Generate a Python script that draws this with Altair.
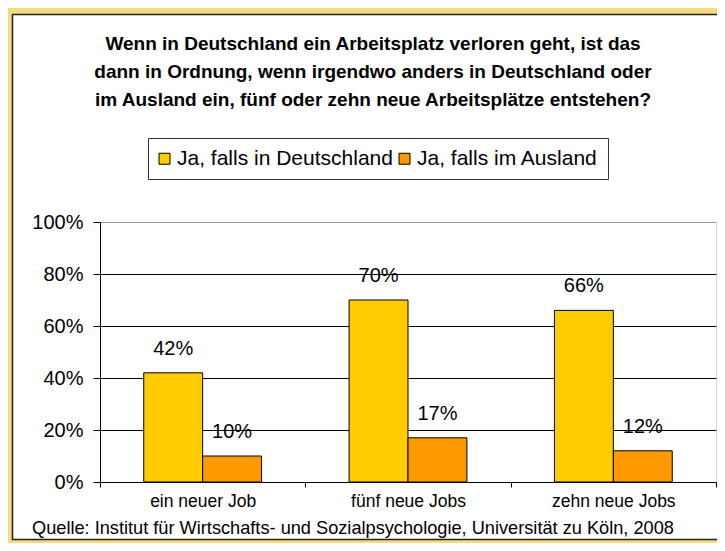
import altair as alt
import pandas as pd

categories = ["ein neuer Job", "fünf neue Jobs", "zehn neue Jobs"]
series = ["Ja, falls in Deutschland", "Ja, falls im Ausland"]
deutschland = [42, 70, 66]
ausland = [10, 17, 12]
y_ticks = [0, 20, 40, 60, 80, 100]
title_lines = [
    "Wenn in Deutschland ein Arbeitsplatz verloren geht, ist das",
    "dann in Ordnung, wenn irgendwo anders in Deutschland oder",
    "im Ausland ein, fünf oder zehn neue Arbeitsplätze entstehen?",
]
source = "Quelle: Institut für Wirtschafts- und Sozialpsychologie, Universität zu Köln, 2008"
colors = ["#FFCC00", "#FF9900"]

rows = []
for i, c in enumerate(categories):
    rows.append({"Kategorie": c, "Serie": series[0], "Wert": deutschland[i]})
    rows.append({"Kategorie": c, "Serie": series[1], "Wert": ausland[i]})
df = pd.DataFrame(rows)
df["Label"] = df["Wert"].astype(str) + "%"
one = pd.DataFrame({"a": [0]})

FONT = "Liberation Sans"

x = alt.X(
    "Kategorie:N", sort=categories,
    scale=alt.Scale(paddingInner=0, paddingOuter=0),
    axis=alt.Axis(title=None, labelAngle=0, tickBand="extent", domainColor="black",
                  tickColor="black", tickSize=5, labelFontSize=17.5, labelColor="black",
                  labelFont=FONT, labelPadding=5, grid=False),
)
xo = alt.XOffset("Serie:N", sort=series, scale=alt.Scale(paddingInner=0, paddingOuter=0.743))
y = alt.Y(
    "Wert:Q", scale=alt.Scale(domain=[0, 100], nice=False),
    axis=alt.Axis(values=y_ticks, title=None, labelExpr="datum.value + '%'",
                  labelFontSize=20, labelFont=FONT, labelColor="black", tickSize=7,
                  tickColor="black", domainColor="black", labelPadding=10,
                  gridColor=alt.condition("datum.value == 100", alt.value("#999999"), alt.value("black")),
                  gridWidth=1),
)
color = alt.Color(
    "Serie:N", sort=series, scale=alt.Scale(domain=series, range=colors),
    legend=alt.Legend(orient="none", legendX=48, legendY=-84, direction="horizontal", title=None,
                      strokeColor="#333333", padding=10, labelFontSize=21, labelFont=FONT,
                      labelColor="black", symbolType="square", symbolSize=121, labelLimit=400,
                      symbolStrokeColor="black", symbolStrokeWidth=1, labelOffset=2,
                      symbolOffset=-4, columnPadding=4, fillColor="white"),
)

bars = alt.Chart(df).mark_bar(stroke="black", strokeWidth=1).encode(x=x, xOffset=xo, y=y, color=color)
labels = alt.Chart(df).mark_text(dy=-24, fontSize=20, font=FONT, color="black").encode(
    x=x, xOffset=xo, y=y, text="Label:N")

frame_y = alt.Chart(one).mark_rect(fillOpacity=0, stroke="#F2DC7C", strokeWidth=6).encode(
    x=alt.value(-90), x2=alt.value(800), y=alt.value(-211), y2=alt.value(320))
frame_b = alt.Chart(one).mark_rect(fillOpacity=0, stroke="#222222", strokeWidth=1.5).encode(
    x=alt.value(-87.5), x2=alt.value(800), y=alt.value(-207.5), y2=alt.value(317.5))
src = alt.Chart(one).mark_text(text=source, align="left", baseline="middle", fontSize=18.2,
                               font=FONT, color="black").encode(x=alt.value(-68), y=alt.value(307))
ttl = alt.Chart(one).mark_text(text=title_lines, align="center", baseline="middle", fontSize=19,
                               font=FONT, fontWeight="bold", lineHeight=28, color="black").encode(
    x=alt.value(273), y=alt.value(-178))

chart = alt.layer(frame_y, frame_b, bars, labels, src, ttl).properties(
    width=616, height=260, autosize="none",
    padding={"left": 92, "top": 214, "right": 1, "bottom": 61},
).configure_view(stroke="#999999", strokeWidth=1).configure(background="white")

chart.save("out.html", embed_options={"renderer": "svg", "actions": False})
